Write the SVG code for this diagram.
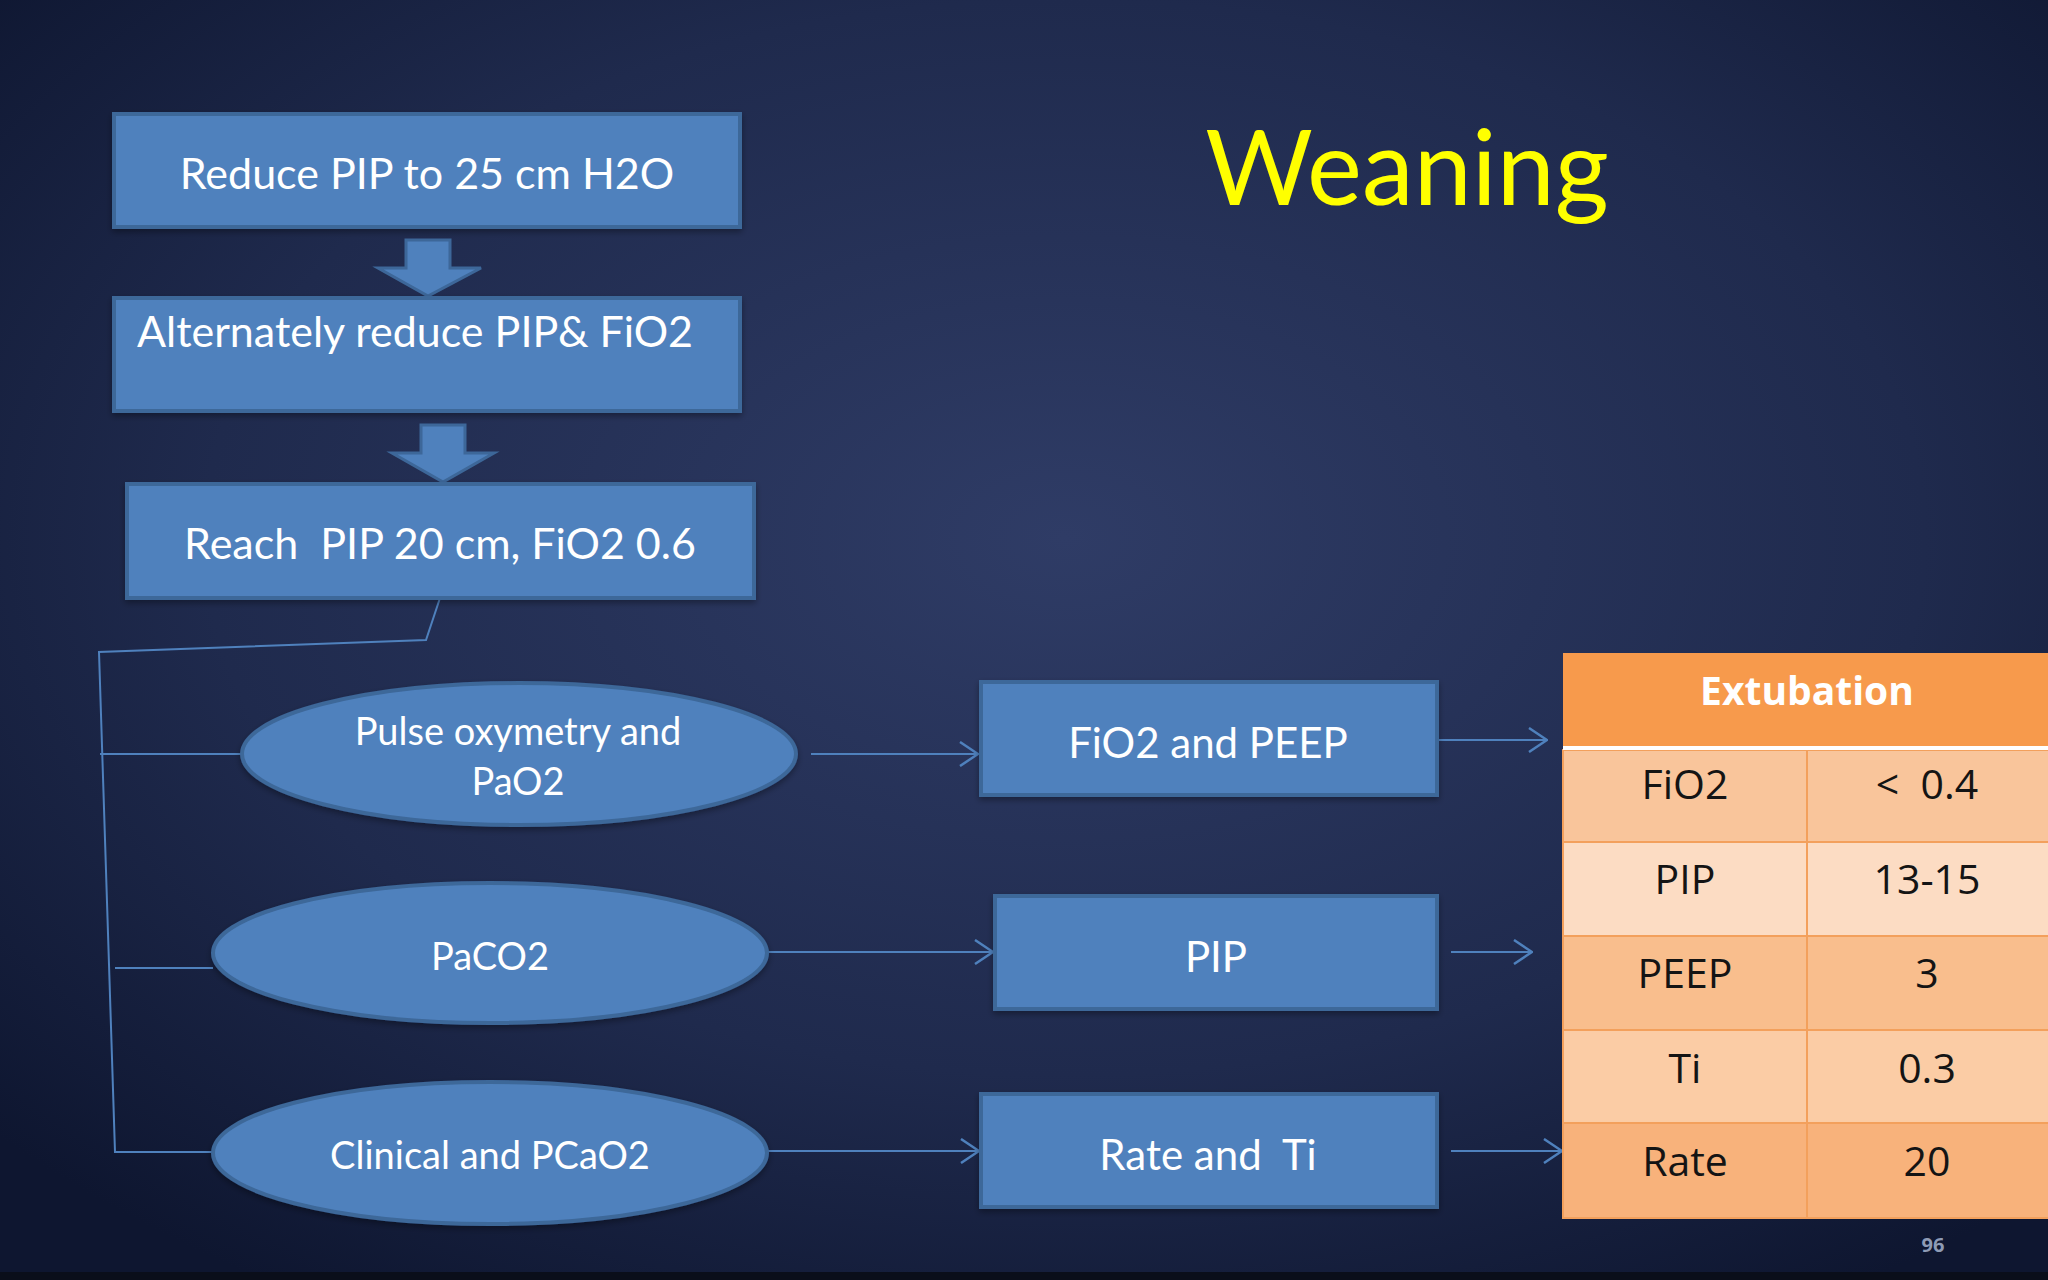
<svg xmlns="http://www.w3.org/2000/svg" width="2048" height="1280" viewBox="0 0 2048 1280">
<defs>
<radialGradient id="bg" cx="52%" cy="42%" r="70%">
<stop offset="0" stop-color="#2F3C66"/>
<stop offset="0.6" stop-color="#1F2A4D"/>
<stop offset="1" stop-color="#0E1630"/>
</radialGradient>
<marker id="chev" viewBox="0 0 20 26" refX="19" refY="13" markerWidth="20" markerHeight="26" markerUnits="userSpaceOnUse" orient="auto">
<path d="M1,1 L19,13 L1,25" fill="none" stroke="#4F81BD" stroke-width="2.5"/>
</marker>
<filter id="sh" x="-5%" y="-5%" width="110%" height="115%">
<feDropShadow dx="0" dy="3" stdDeviation="3" flood-color="#000" flood-opacity="0.35"/>
</filter>
</defs>
<style>
.box{fill:#4F81BD;stroke:#3D6799;stroke-width:4;filter:url(#sh)}
.bt{font-family:Lato,"Liberation Sans",sans-serif;font-size:43px;fill:#FFFFFF;text-anchor:middle}
.et{font-size:38px}
.rt{font-size:42px}
.blk{fill:#4F81BD;stroke:#3D6799;stroke-width:3}
.con{fill:none;stroke:#4F81BD;stroke-width:2}
.arr{fill:none;stroke:#4F81BD;stroke-width:2;marker-end:url(#chev)}
.tt{font-family:"Open Sans","DejaVu Sans",sans-serif;font-size:41px;fill:#141414;text-anchor:middle}
.cell{stroke:#F3A05C;stroke-width:2}
</style>
<rect x="0" y="0" width="2048" height="1280" fill="url(#bg)"/>
<rect x="0" y="1272" width="2048" height="8" fill="#0A0E1A"/>

<g id="title">
<text x="1407" y="205" font-family="Lato,'Liberation Sans',sans-serif" font-size="104" fill="#FFFF00" text-anchor="middle">Weaning</text>
</g>

<g id="connectors">
<polygon class="blk" points="406,240 450,240 450,268 481,268 428,296 378,268 406,268"/>
<polygon class="blk" points="421,425 465,425 465,453 494,453 443,482 392,453 421,453"/>
<polyline class="con" points="440,598 426,640 99,652 115,1152 213,1152"/>
<line class="con" x1="100" y1="754" x2="242" y2="754"/>
<line class="con" x1="115" y1="968" x2="213" y2="968"/>
<line class="arr" x1="811" y1="754" x2="978" y2="754"/>
<line class="arr" x1="768" y1="952" x2="993" y2="952"/>
<line class="arr" x1="768" y1="1151" x2="979" y2="1151"/>
<line class="arr" x1="1438" y1="740" x2="1547" y2="740"/>
<line class="arr" x1="1451" y1="952" x2="1532" y2="952"/>
<line class="arr" x1="1451" y1="1151" x2="1562" y2="1151"/>
</g>

<g id="n-reduce">
<rect class="box" x="114" y="114" width="626" height="113"/>
<text class="bt" x="427" y="189">Reduce PIP to 25 cm H2O</text>
</g>
<g id="n-alternately">
<rect class="box" x="114" y="298" width="626" height="113"/>
<text class="bt" x="415" y="347">Alternately reduce PIP&amp; FiO2</text>
</g>
<g id="n-reach">
<rect class="box" x="127" y="484" width="627" height="114"/>
<text class="bt" x="440" y="559" xml:space="preserve">Reach  PIP 20 cm, FiO2 0.6</text>
</g>

<g id="n-pulse">
<ellipse class="box" cx="519" cy="754" rx="277" ry="71"/>
<text class="bt et" x="518" y="745">Pulse oxymetry and</text>
<text class="bt et" x="518" y="795">PaO2</text>
</g>
<g id="n-paco2">
<ellipse class="box" cx="490" cy="953" rx="277" ry="70"/>
<text class="bt et" x="490" y="970">PaCO2</text>
</g>
<g id="n-clinical">
<ellipse class="box" cx="490" cy="1153" rx="277" ry="71"/>
<text class="bt et" x="490" y="1169">Clinical and PCaO2</text>
</g>

<g id="n-fio2peep">
<rect class="box" x="981" y="682" width="456" height="113"/>
<text class="bt rt" x="1208" y="758">FiO2 and PEEP</text>
</g>
<g id="n-pip">
<rect class="box" x="995" y="896" width="442" height="113"/>
<text class="bt rt" x="1216" y="972">PIP</text>
</g>
<g id="n-rate">
<rect class="box" x="981" y="1094" width="456" height="113"/>
<text class="bt rt" x="1208" y="1170" xml:space="preserve">Rate and  Ti</text>
</g>

<g id="n-extubation">
<rect x="1563" y="653" width="490" height="95" fill="#F79A4C"/>
<rect class="cell" x="1563" y="750" width="244" height="92" fill="#F9C59B"/>
<rect class="cell" x="1807" y="750" width="246" height="92" fill="#F9C59B"/>
<rect class="cell" x="1563" y="842" width="244" height="94" fill="#FCDCC3"/>
<rect class="cell" x="1807" y="842" width="246" height="94" fill="#FCDCC3"/>
<rect class="cell" x="1563" y="936" width="244" height="94" fill="#F9BE8D"/>
<rect class="cell" x="1807" y="936" width="246" height="94" fill="#F9BE8D"/>
<rect class="cell" x="1563" y="1030" width="244" height="93" fill="#FBCCA5"/>
<rect class="cell" x="1807" y="1030" width="246" height="93" fill="#FBCCA5"/>
<rect class="cell" x="1563" y="1123" width="244" height="95" fill="#F8B27B"/>
<rect class="cell" x="1807" y="1123" width="246" height="95" fill="#F8B27B"/>
<line x1="1563" y1="748" x2="2048" y2="748" stroke="#FFFFFF" stroke-width="4"/>
<text x="1807" y="705" font-family="'Open Sans','DejaVu Sans',sans-serif" font-size="39" font-weight="bold" fill="#FFFFFF" text-anchor="middle">Extubation</text>
<text class="tt" x="1685" y="799">FiO2</text>
<text class="tt" x="1927" y="799" xml:space="preserve">&lt;  0.4</text>
<text class="tt" x="1685" y="894">PIP</text>
<text class="tt" x="1927" y="894">13-15</text>
<text class="tt" x="1685" y="988">PEEP</text>
<text class="tt" x="1927" y="988">3</text>
<text class="tt" x="1685" y="1083">Ti</text>
<text class="tt" x="1927" y="1083">0.3</text>
<text class="tt" x="1685" y="1176">Rate</text>
<text class="tt" x="1927" y="1176">20</text>
</g>

<g id="page-number">
<text x="1933" y="1252" font-family="'Open Sans','DejaVu Sans',sans-serif" font-size="20" font-weight="bold" fill="#8E9BB5" text-anchor="middle">96</text>
</g>
</svg>
